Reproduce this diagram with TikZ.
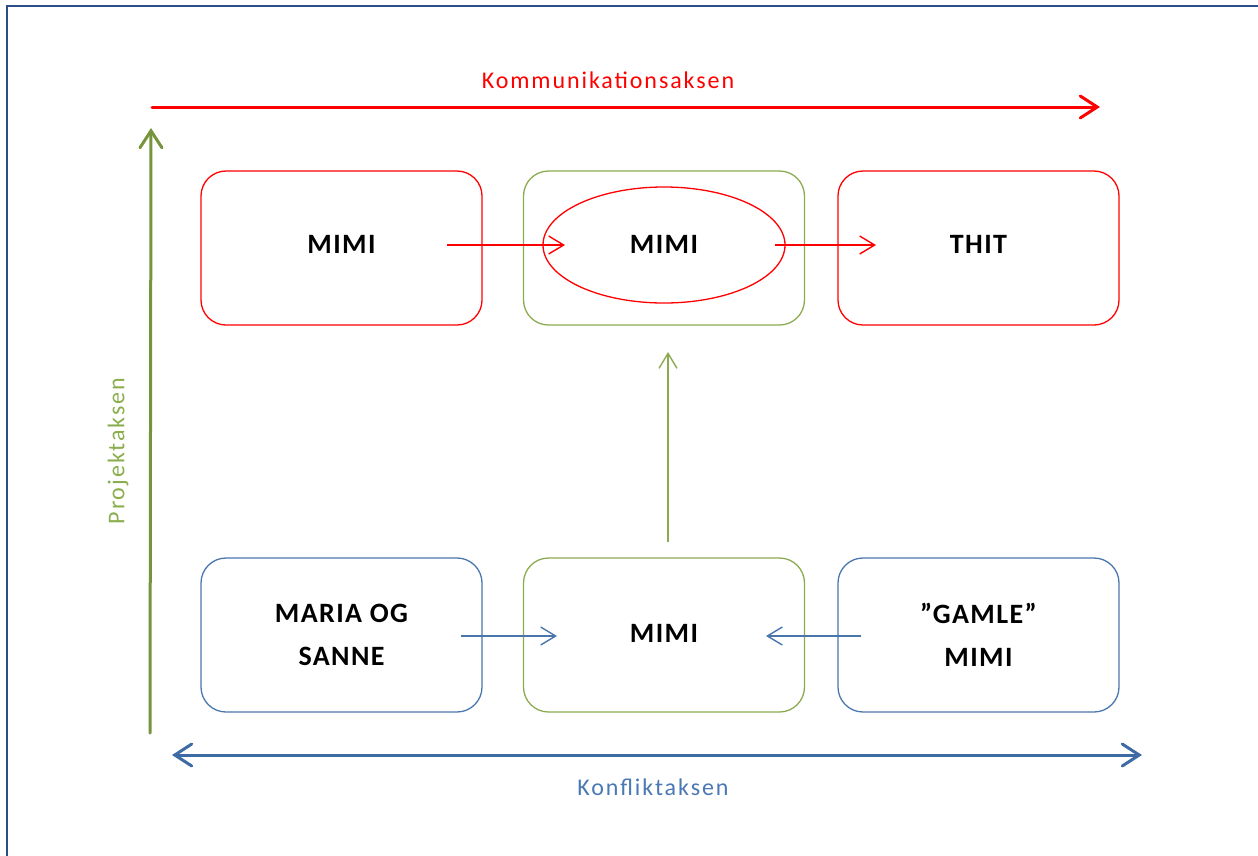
\documentclass[tikz,border=0pt]{standalone}
\usepackage{fontspec}
\setmainfont{Carlito}
\newfontfamily\axfont[LetterSpace=8]{Carlito}
\newfontfamily\bxfont[LetterSpace=5]{Carlito}
\usetikzlibrary{arrows.meta,shapes.geometric}
\definecolor{framecol}{HTML}{2B4C86}
\definecolor{axred}{HTML}{FF0000}
\definecolor{axgreen}{HTML}{77933C}
\definecolor{axblue}{HTML}{3E6BA3}
\definecolor{bxgreen}{HTML}{8CAA50}
\definecolor{bxblue}{HTML}{4A76AE}
\definecolor{lblblue}{HTML}{4A78B4}
\definecolor{lblgreen}{HTML}{8AAE4E}
\tikzset{
  box/.style={rounded corners=25pt, minimum width=281pt, minimum height=154pt,
    line width=1.3pt, align=center, inner sep=0pt,
    font=\bxfont\bfseries\fontsize{28}{43}\selectfont},
  bigarrow/.style={line width=3pt, line cap=round,
    -{Straight Barb[length=17pt,width=22pt,line cap=round]}},
  bigdouble/.style={line width=3pt, line cap=round,
    {Straight Barb[length=17pt,width=22pt,line cap=round]}-{Straight Barb[length=17pt,width=22pt,line cap=round]}},
  smallarrow/.style={line width=1.4pt,
    -{Straight Barb[length=15pt,width=18pt]}},
  axlabel/.style={font=\axfont\fontsize{24}{28}\selectfont, inner sep=0pt}
}
\begin{document}
\begin{tikzpicture}[x=1pt,y=-1pt]
\useasboundingbox (0,0) rectangle (1258,855);
\clip (0,0) rectangle (1258,855);
% frame
\draw[framecol, line width=2.2pt] (7,900) -- (7,6) -- (1300,6);

% boxes
\node[box, draw=axred, text depth=8pt] (tl) at (341.5,248) {MIMI};
\node[box, draw=bxgreen, text depth=8pt] (tm) at (664,248) {MIMI};
\node[box, draw=axred, text depth=8pt] (tr) at (978.5,248) {THIT};
\node[box, draw=bxblue] (bl) at (341.5,635) {MARIA OG\\SANNE};
\node[box, draw=bxgreen, text depth=4pt] (bm) at (664,635) {MIMI};
\node[box, draw=bxblue] (br) at (978.5,635) {”GAMLE”\\MIMI};
\node[ellipse, draw=axred, line width=1.3pt, minimum width=242pt, minimum height=116pt, inner sep=0pt] (ell) at (664,245) {};

% axes
\coordinate (komS) at (152,107);
\coordinate (komE) at (1100,107);
\draw[axred, bigarrow] (komS) -- (komE);
\node[axlabel, text=axred] (kom) at (608,80) {Kommunikationsaksen};

\coordinate (projS) at (150,733);
\coordinate (projE) at (151,128);
\draw[axgreen, bigarrow] (projS) -- (projE);
\node[axlabel, text=lblgreen, rotate=90] (proj) at (118,451) {Projektaksen};

\coordinate (konS) at (172,755);
\coordinate (konE) at (1142,755);
\draw[axblue, bigdouble] (konS) -- (konE);
\node[axlabel, text=lblblue] (konf) at (653,787) {Konfliktaksen};

% small arrows
\coordinate (r1s) at (447,245);
\coordinate (r1e) at (565,245);
\coordinate (r2s) at (775,245);
\coordinate (r2e) at (876,245);
\coordinate (g1s) at (668,542);
\coordinate (g1e) at (668,352);
\coordinate (b1s) at (461,636);
\coordinate (b1e) at (557,636);
\coordinate (b2s) at (861,636);
\coordinate (b2e) at (766,636);
\draw[axred, smallarrow] (r1s) -- (r1e);
\draw[axred, smallarrow] (r2s) -- (r2e);
\draw[bxgreen, smallarrow] (g1s) -- (g1e);
\draw[bxblue, smallarrow] (b1s) -- (b1e);
\draw[bxblue, smallarrow] (b2s) -- (b2e);
\end{tikzpicture}
\end{document}
